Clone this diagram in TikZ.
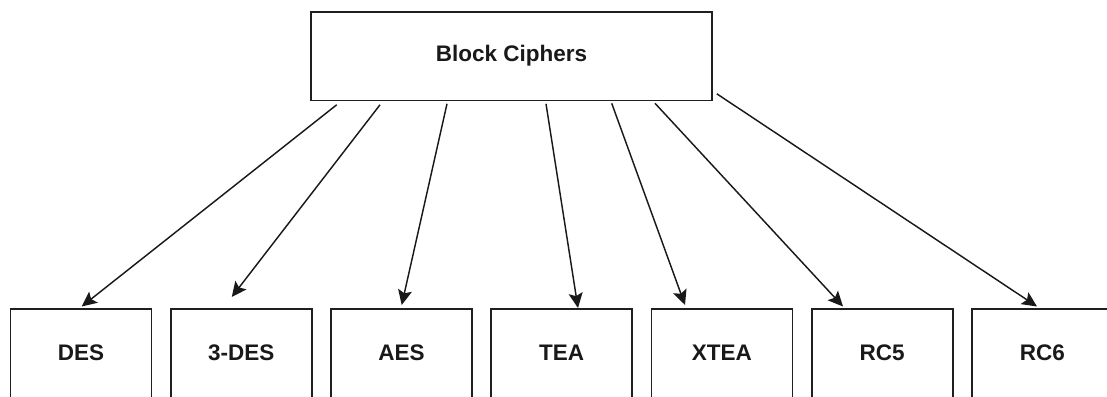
\documentclass[tikz,border=0pt]{standalone}
\usepackage{fontspec}
\setmainfont{Liberation Sans}
\usetikzlibrary{arrows.meta}

\begin{document}
\begin{tikzpicture}[x=1pt, y=-1pt,
  box/.style={draw=black!88, line width=1.8pt, fill=white, rectangle,
    font=\bfseries\fontsize{22.5}{26}\selectfont, text=black!90,
    inner sep=0pt, anchor=north west},
  rootbox/.style={box, minimum width=401pt, minimum height=88.5pt,
    text height=16pt, text depth=6pt},
  leafbox/.style={box, minimum width=141pt, minimum height=100pt,
    text height=16pt, text depth=12pt},
  arr/.style={draw=black!90, line width=1.45pt,
    -{Stealth[length=15pt, width=14pt, inset=3pt]}}]

  \useasboundingbox (0,0) rectangle (1107,396);
  \clip (0,0) rectangle (1107,396);

  % parent box
  \node[rootbox] (root) at (310,11) {Block Ciphers};

  % leaf boxes, open at the bottom edge of the page
  \node[leafbox] (des)  at (9.5,308)   {DES};
  \node[leafbox] (tdes) at (169.75,308) {3-DES};
  \node[leafbox] (aes)  at (330,308)   {AES};
  \node[leafbox] (tea)  at (490.25,308) {TEA};
  \node[leafbox] (xtea) at (650.5,308) {XTEA};
  \node[leafbox] (rcf)  at (810.75,308) {RC5};
  \node[leafbox] (rcs)  at (971,308)   {RC6};

  % connectors from the parent to each cipher
  \draw[arr] ([xshift=26.7pt, yshift=-3.5pt]root.south west) -- ([xshift=72.2pt, yshift=1.5pt]des.north west);
  \draw[arr] ([xshift=70pt,   yshift=-3.5pt]root.south west) -- ([xshift=62pt,   yshift=11pt]tdes.north west);
  \draw[arr] ([xshift=137pt,  yshift=-2.5pt]root.south west) -- ([xshift=71.7pt, yshift=3pt]aes.north west);
  \draw[arr] ([xshift=236pt,  yshift=-2.5pt]root.south west) -- ([xshift=87.75pt,yshift=0pt]tea.north west);
  \draw[arr] ([xshift=301.7pt,yshift=-2pt]root.south west)   -- ([xshift=34.5pt, yshift=3pt]xtea.north west);
  \draw[arr] ([xshift=345pt,  yshift=-2pt]root.south west)   -- ([xshift=32.25pt,yshift=1.5pt]rcf.north west);
  \draw[arr] ([xshift=4pt,    yshift=7.5pt]root.south east)  -- ([xshift=66pt,   yshift=1.5pt]rcs.north west);
\end{tikzpicture}
\end{document}
